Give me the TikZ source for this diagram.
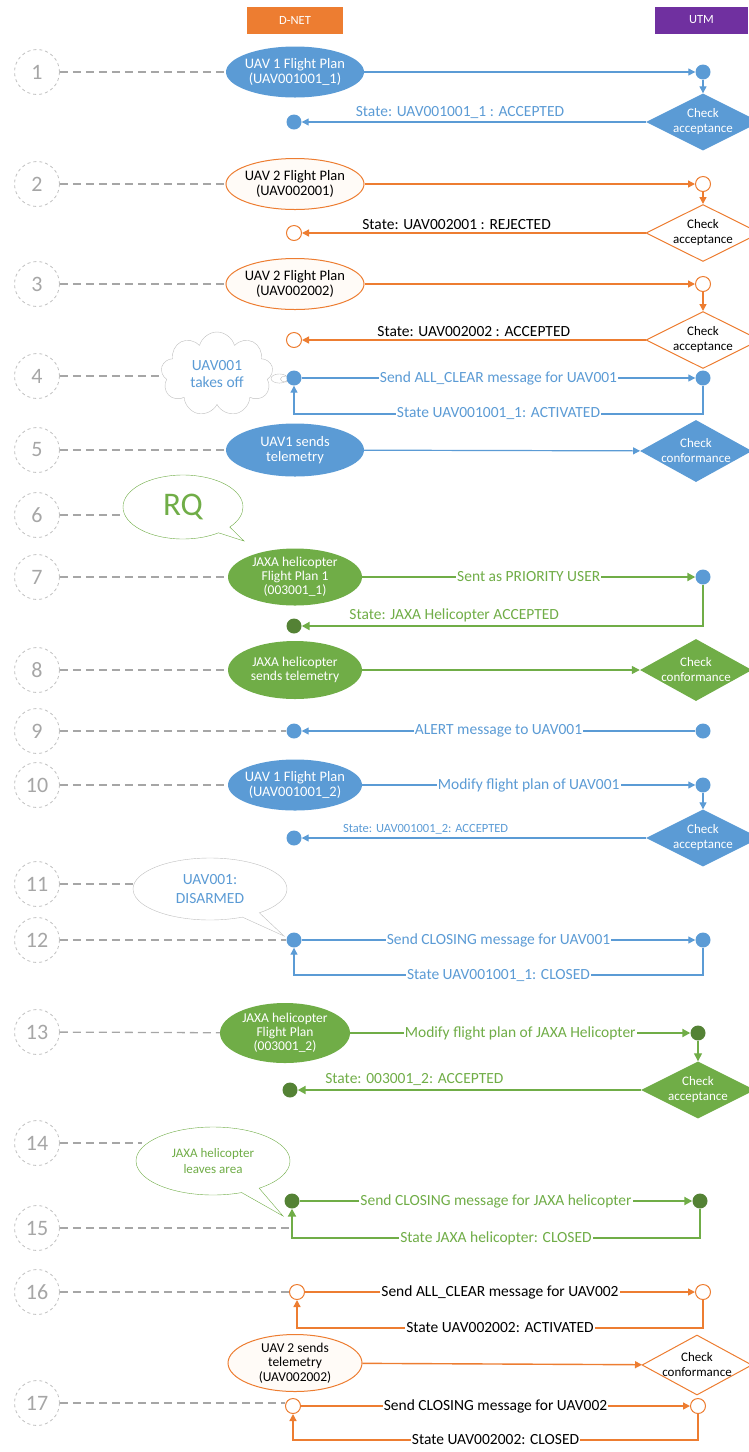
\documentclass[tikz,border=0pt]{standalone}
\usepackage{fontspec}
\setmainfont{Carlito}
\usetikzlibrary{shapes.geometric,shapes.callouts,shapes.symbols,arrows.meta}

\definecolor{uavblue}{HTML}{5B9BD5}
\definecolor{uavorange}{HTML}{ED7D31}
\definecolor{jaxagreen}{HTML}{70AD47}
\definecolor{darkgreen}{HTML}{548235}
\definecolor{utmpurple}{HTML}{7030A0}
\definecolor{stepgray}{HTML}{BFBFBF}
\definecolor{numgray}{HTML}{A6A6A6}

\tikzset{
  head/.style={minimum width=96pt, minimum height=27pt, inner sep=0pt, text=white, font=\fontsize{12.5}{14}\selectfont},
  stepcirc/.style={circle, draw=stepgray, dashed, line width=0.8pt, minimum size=45pt, inner sep=0pt, text=numgray, font=\fontsize{22}{22}\selectfont},
  stepline/.style={draw=numgray, line width=1.3pt, dash pattern=on 8pt off 5pt},
  fp/.style={ellipse, minimum width=138pt, minimum height=51pt, inner sep=-6pt, align=center, font=\fontsize{14.5}{15.5}\selectfont},
  fpblue/.style={fp, fill=uavblue, text=white},
  fporange/.style={fp, draw=uavorange, line width=1pt, fill=orange!3, text=black},
  fpgreen/.style={fp, fill=jaxagreen, text=white, font=\fontsize{13.5}{14}\selectfont},
  chk/.style={diamond, aspect=2, inner sep=-8pt, minimum width=114pt, minimum height=57pt, align=center, font=\fontsize{13}{15}\selectfont},
  chkblue/.style={chk, fill=uavblue, text=white},
  chkorange/.style={chk, draw=uavorange, line width=1pt, fill=white, text=black},
  chkgreen/.style={chk, fill=jaxagreen, text=white},
  bdot/.style={circle, fill=uavblue, minimum size=15pt, inner sep=0pt},
  odot/.style={circle, draw=uavorange, line width=1pt, fill=white, minimum size=15pt, inner sep=0pt},
  gdot/.style={circle, fill=darkgreen, minimum size=15pt, inner sep=0pt},
  msgblue/.style={draw=uavblue, line width=1.2pt, -{Triangle[length=7pt,width=7pt]}, text=uavblue},
  msgorange/.style={draw=uavorange, line width=1.4pt, -{Triangle[length=7pt,width=7pt]}, text=black},
  msggreen/.style={draw=jaxagreen, line width=2.5pt, -{Triangle[length=8pt,width=8pt]}, text=jaxagreen},
  lbl/.style={fill=white, inner sep=1pt, font=\fontsize{15.5}{17}\selectfont},
  lblup/.style={above, inner sep=3pt, font=\fontsize{15.5}{17}\selectfont},
  bubble/.style={ellipse callout, fill=white, align=center, inner sep=-4pt},
}

\begin{document}
\begin{tikzpicture}[x=1pt, y=-1pt]
\useasboundingbox (0,0) rectangle (748,1452);
\def\xl{294} \def\xr{703}

% lanes
\node[head, fill=uavorange] (dnet) at (295,20) {D-NET};
\node[head, fill=utmpurple, minimum width=93pt] (utm) at (701.5,20) {UTM};

% steps
\foreach \n/\y in {1/72, 2/184, 3/284, 4/376, 5/450, 6/515, 7/577, 8/670, 9/731,
    10/785, 11/884, 12/940, 13/1032, 14/1143, 15/1228, 16/1292, 17/1403}
  \node[stepcirc] (s\n) at (37,\y) {\n};

% 1
\node[fpblue] (fp1) at (295,72) {UAV 1 Flight Plan\\(UAV001001\_1)};
\node[bdot] (d1r) at (\xr,72) {};
\node[chkblue] (chk1) at (\xr,122) {Check\\acceptance};
\node[bdot] (d1l) at (\xl,122) {};
\draw[stepline] (s1) -- (fp1);
\draw[msgblue] (fp1) -- (d1r);
\draw[msgblue] (d1r) -- (chk1);
\draw[msgblue] (chk1) -- node[lblup, pos=0.54] {State: UAV001001\_1 : ACCEPTED} (d1l);

% 2
\node[fporange] (fp2) at (295,184) {UAV 2 Flight Plan\\(UAV002001)};
\node[odot] (d2r) at (\xr,184) {};
\node[chkorange] (chk2) at (\xr,233) {Check\\acceptance};
\node[odot] (d2l) at (\xl,233) {};
\draw[stepline] (s2) -- (fp2);
\draw[msgorange] (fp2) -- (d2r);
\draw[msgorange] (d2r) -- (chk2);
\draw[msgorange] (chk2) -- node[lblup, pos=0.55] {State: UAV002001 : REJECTED} (d2l);

% 3
\node[fporange] (fp3) at (295,284) {UAV 2 Flight Plan\\(UAV002002)};
\node[odot] (d3r) at (\xr,284) {};
\node[chkorange] (chk3) at (\xr,340) {Check\\acceptance};
\node[odot] (d3l) at (\xl,340) {};
\draw[stepline] (s3) -- (fp3);
\draw[msgorange] (fp3) -- (d3r);
\draw[msgorange] (d3r) -- (chk3);
\draw[msgorange] (chk3) -- node[lblup, pos=0.5] {State: UAV002002 : ACCEPTED} (d3l);

% 4
\node[cloud callout, cloud puffs=9, aspect=1.3, draw=stepgray, fill=white, text=uavblue,
  minimum width=112pt, minimum height=84pt, inner sep=-6pt, align=center,
  font=\fontsize{15.5}{17.5}\selectfont, callout absolute pointer={(286,379)}] (cl4) at (217,374) {UAV001\\takes off};
\node[bdot] (d4l) at (\xl,378) {};
\node[bdot] (d4r) at (\xr,378) {};
\draw[stepline] (s4) -- (s4 -| cl4.west);
\draw[msgblue] (d4l) -- node[lbl] {Send ALL\_CLEAR message for UAV001} (d4r);
\draw[msgblue] (d4r) -- ++(0,36) -| node[lbl, pos=0.25] {State UAV001001\_1: ACTIVATED} (d4l);

% 5
\node[fpblue, minimum height=53pt] (fp5) at (295,450) {UAV1 sends\\telemetry};
\node[chkblue, minimum width=112pt, minimum height=62pt] (chk5) at (696,451) {Check\\conformance};
\draw[stepline] (s5) -- (fp5);
\draw[msgblue] (fp5) -- (chk5);

% 6
\node[bubble, draw=jaxagreen, text=jaxagreen, minimum width=120pt, minimum height=64pt,
  font=\fontsize{33}{33}\selectfont, callout absolute pointer={(244,541)}] (rq) at (183,507) {RQ};
\draw[stepline] (s6) -- (s6 -| rq.west);

% 7
\node[fpgreen, minimum width=134pt, minimum height=57pt] (fp7) at (295,577) {JAXA helicopter\\Flight Plan 1\\(003001\_1)};
\node[bdot] (d7r) at (\xr,577) {};
\node[gdot] (d7l) at (\xl,626) {};
\draw[stepline] (s7) -- (fp7);
\draw[msggreen] (fp7) -- node[lbl] {Sent as PRIORITY USER} (d7r);
\draw[msggreen] (d7r) |- node[lblup, pos=0.81] {State: JAXA Helicopter ACCEPTED} (d7l);

% 8
\node[fpgreen, minimum width=134pt, minimum height=58pt] (fp8) at (295,670) {JAXA helicopter\\sends telemetry};
\node[chkgreen, minimum width=112pt, minimum height=62pt] (chk8) at (696,670) {Check\\conformance};
\draw[stepline] (s8) -- (fp8);
\draw[msggreen, line width=1.3pt] (fp8) -- (chk8);

% 9
\node[bdot] (d9l) at (\xl,731) {};
\node[bdot] (d9r) at (\xr,731) {};
\draw[stepline] (s9) -- (d9l);
\draw[msgblue] (d9r) -- node[lbl] {ALERT message to UAV001} (d9l);

% 10
\node[fpblue, minimum width=134pt] (fp10) at (295,785) {UAV 1 Flight Plan\\(UAV001001\_2)};
\node[bdot] (d10r) at (\xr,785) {};
\node[chkblue] (chk10) at (\xr,838) {Check\\acceptance};
\node[bdot] (d10l) at (\xl,838) {};
\draw[stepline] (s10) -- (fp10);
\draw[msgblue] (fp10) -- node[lbl] {Modify flight plan of UAV001} (d10r);
\draw[msgblue] (d10r) -- (chk10);
\draw[msgblue] (chk10) -- node[lblup, pos=0.64, font=\fontsize{12.5}{14}\selectfont] {State: UAV001001\_2: ACCEPTED} (d10l);

% 11
\node[bubble, draw=stepgray, text=uavblue, minimum width=154pt, minimum height=62pt,
  font=\fontsize{15.5}{18.5}\selectfont, callout absolute pointer={(284,936)}] (b11) at (210,889) {UAV001:\\DISARMED};
\draw[stepline] (s11) -- (s11 -| b11.west);

% 12
\node[bdot] (d12l) at (\xl,940) {};
\node[bdot] (d12r) at (\xr,940) {};
\draw[stepline] (s12) -- (d12l);
\draw[msgblue] (d12l) -- node[lbl] {Send CLOSING message for UAV001} (d12r);
\draw[msgblue] (d12r) -- ++(0,35) -| node[lbl, pos=0.25] {State UAV001001\_1: CLOSED} (d12l);

% 13
\node[fpgreen, minimum width=130pt, minimum height=60pt] (fp13) at (285,1033) {JAXA helicopter\\Flight Plan\\(003001\_2)};
\node[gdot] (d13r) at (698,1033) {};
\node[chkgreen] (chk13) at (698,1090) {Check\\acceptance};
\node[gdot] (d13l) at (290,1090) {};
\draw[stepline] (s13) -- (fp13);
\draw[msggreen] (fp13) -- node[lbl] {Modify flight plan of JAXA Helicopter} (d13r);
\draw[msggreen, line width=1.3pt] (d13r) -- (chk13);
\draw[msggreen] (chk13) -- node[lblup, pos=0.66] {State: 003001\_2: ACCEPTED} (d13l);

% 14
\node[bubble, draw=jaxagreen, text=jaxagreen, minimum width=154pt, minimum height=68pt,
  font=\fontsize{13}{16.5}\selectfont, callout absolute pointer={(283,1216)}] (b14) at (213,1161) {JAXA helicopter\\leaves area};
\draw[stepline] (s14) -- ([xshift=6pt]s14 -| b14.west);

% 15
\node[gdot] (d15l) at (292,1201) {};
\node[gdot] (d15r) at (700,1201) {};
\draw[stepline] (s15) -- (s15 -| d15l);
\draw[msggreen] (d15l) -- node[lbl] {Send CLOSING message for JAXA helicopter} (d15r);
\draw[msggreen] (d15r) -- ++(0,37) -| node[lbl, pos=0.25] {State JAXA helicopter: CLOSED} (d15l);

% 16
\node[odot] (d16l) at (297,1292) {};
\node[odot] (d16r) at (\xr,1292) {};
\draw[stepline] (s16) -- (d16l);
\draw[msgorange] (d16l) -- node[lbl] {Send ALL\_CLEAR message for UAV002} (d16r);
\draw[msgorange] (d16r) -- ++(0,36) -| node[lbl, pos=0.25] {State UAV002002: ACTIVATED} (d16l);

% UAV 2 telemetry
\node[fporange, minimum width=134pt, minimum height=57pt, font=\fontsize{13.5}{14.5}\selectfont] (fp16) at (295,1363) {UAV 2 sends\\telemetry\\(UAV002002)};
\node[chkorange, minimum width=110pt, minimum height=60pt] (chk16) at (697,1365) {Check\\conformance};
\draw[msgorange] (fp16) -- (chk16);

% 17
\node[odot] (d17l) at (293,1406) {};
\node[odot] (d17r) at (698,1406) {};
\draw[stepline] (s17) -- (s17 -| d17l.west);
\draw[msgorange] (d17l) -- node[lbl] {Send CLOSING message for UAV002} (d17r);
\draw[msgorange] (d17r) -- ++(0,34) -| node[lbl, pos=0.25] {State UAV002002: CLOSED} (d17l);
\end{tikzpicture}
\end{document}
